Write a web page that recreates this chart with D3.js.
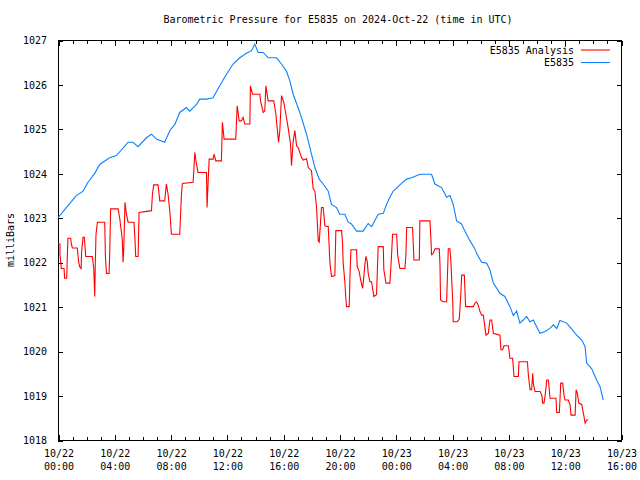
<!DOCTYPE html>
<html><head><meta charset="utf-8">
<script src="https://cdn.jsdelivr.net/npm/d3@7"></script>
<style>
html,body{margin:0;padding:0;background:#fff;}
text{font-family:"DejaVu Sans Mono",monospace;font-size:10px;fill:#000;}
</style></head>
<body>
<svg id="c" width="640" height="480"></svg>
<script>
// Hours since 2024-10-22 00:00 UTC, and pressure (mb)
const analysisHours = [0.00,0.14,0.14,0.24,0.43,0.47,0.62,0.66,0.71,0.90,0.95,1.02,1.37,1.47,1.54,1.64,1.68,1.78,1.87,1.92,1.97,2.44,2.54,2.61,2.65,2.70,2.80,3.32,3.37,3.44,3.63,3.67,3.74,4.27,4.38,4.57,4.62,4.67,4.76,4.86,4.98,5.40,5.47,5.52,5.69,5.76,6.64,6.71,6.80,7.11,7.23,7.58,7.70,7.82,7.94,8.06,8.65,8.77,8.84,9.60,9.72,9.84,9.95,10.55,10.59,10.66,10.74,11.02,11.09,11.21,11.61,11.68,11.80,12.63,12.73,12.87,13.03,13.15,13.27,13.63,13.67,13.82,14.34,14.39,14.58,14.69,14.77,14.93,15.33,15.48,15.59,15.67,15.76,15.88,16.04,16.19,16.35,16.52,16.59,16.71,16.83,16.95,17.06,17.30,17.42,17.66,17.78,18.01,18.13,18.25,18.37,18.49,18.56,18.72,18.84,18.96,19.20,19.32,19.43,19.67,19.74,20.15,20.22,20.26,20.38,20.45,20.50,20.69,20.74,20.81,21.21,21.26,21.40,21.50,21.64,21.73,21.80,21.88,21.97,22.04,22.16,22.28,22.35,22.44,22.63,22.75,23.11,23.15,23.30,23.58,23.70,23.77,24.06,24.13,24.29,24.65,24.72,24.77,25.19,25.29,25.67,25.71,26.43,26.50,26.54,26.66,26.78,27.09,27.14,27.18,27.37,27.61,27.73,27.85,27.92,28.04,28.08,28.37,28.51,28.61,28.68,28.87,28.91,28.96,29.51,29.63,29.74,29.86,29.98,30.10,30.22,30.34,30.41,30.57,30.69,30.81,30.93,31.40,31.47,31.59,31.69,32.00,32.11,32.30,32.40,32.71,32.75,33.35,33.42,33.54,33.65,33.73,33.77,33.89,34.25,34.37,34.44,34.53,34.63,34.72,34.84,34.96,35.38,35.43,35.62,35.72,35.86,35.95,36.02,36.26,36.38,36.45,36.74,36.81,36.90,37.00,37.21,37.33,37.45,37.56,37.68];
const analysisValues = [1022.41,1022.41,1022.17,1021.86,1021.86,1021.64,1021.64,1022.13,1022.54,1022.54,1022.41,1022.32,1022.32,1022.0,1021.9,1021.86,1022.24,1022.56,1022.56,1022.35,1022.13,1022.13,1021.86,1021.23,1021.98,1022.63,1022.9,1022.9,1022.13,1021.75,1021.75,1022.13,1023.2,1023.2,1023.0,1022.5,1022.0,1022.28,1023.35,1023.08,1022.9,1022.9,1022.5,1022.13,1022.13,1023.12,1023.16,1023.53,1023.74,1023.74,1023.38,1023.38,1023.76,1023.53,1023.16,1022.63,1022.63,1023.53,1023.77,1023.8,1024.47,1024.2,1024.02,1024.02,1023.23,1023.76,1024.32,1024.32,1024.43,1024.28,1024.28,1025.15,1024.77,1024.77,1025.52,1025.18,1025.18,1025.26,1025.11,1025.11,1025.97,1025.78,1025.78,1025.63,1025.37,1025.4,1025.97,1025.63,1025.63,1025.33,1024.96,1024.7,1024.96,1025.75,1025.6,1025.33,1025.03,1024.66,1024.17,1024.72,1024.96,1024.62,1024.58,1024.36,1024.3,1024.33,1024.13,1024.06,1023.65,1023.6,1023.23,1022.48,1022.45,1023.23,1023.23,1022.82,1022.8,1021.98,1021.68,1021.7,1022.71,1022.71,1022.41,1021.98,1021.56,1021.19,1021.0,1021.0,1021.64,1022.28,1022.28,1021.9,1021.79,1021.6,1021.41,1021.67,1021.94,1022.13,1022.02,1021.75,1021.56,1021.56,1021.41,1021.23,1021.27,1022.35,1022.35,1021.83,1021.53,1021.53,1022.17,1022.63,1022.63,1022.17,1021.86,1021.86,1022.17,1022.78,1022.78,1022.05,1022.05,1022.93,1022.93,1022.48,1022.17,1022.2,1022.3,1022.3,1021.94,1021.15,1021.11,1021.11,1022.3,1022.3,1021.98,1021.15,1020.66,1020.66,1020.72,1021.23,1021.71,1021.71,1021.38,1021.0,1021.0,1021.08,1021.11,1021.03,1020.89,1020.81,1020.81,1020.51,1020.36,1020.4,1020.7,1020.7,1020.4,1020.36,1020.03,1020.03,1020.12,1020.12,1019.84,1019.84,1019.43,1019.43,1019.76,1019.76,1019.46,1019.13,1019.13,1019.5,1019.28,1019.09,1019.09,1019.01,1018.83,1018.83,1019.05,1019.35,1019.35,1018.94,1018.94,1018.62,1018.62,1019.28,1019.28,1019.01,1018.9,1018.9,1018.79,1018.56,1018.56,1019.13,1019.05,1018.83,1018.8,1018.6,1018.38,1018.45,1018.45];
const stationHours = [0.00,0.59,1.30,1.78,2.13,2.61,2.96,3.67,4.15,4.98,5.33,5.69,6.28,6.64,6.99,7.58,7.94,8.30,8.65,9.12,9.36,9.84,10.07,10.55,11.02,11.49,11.97,12.44,12.92,13.39,13.75,13.98,14.22,14.58,14.93,15.52,15.88,16.23,16.47,16.71,17.18,17.66,18.01,18.25,18.56,18.84,19.20,19.43,19.79,20.02,20.38,20.62,20.85,21.21,21.68,22.04,22.28,22.75,23.11,23.34,23.58,23.82,24.29,24.76,25.12,25.71,26.54,26.78,27.25,27.61,27.85,28.08,28.32,28.67,28.91,29.27,29.62,29.74,30.10,30.45,30.69,30.93,31.40,31.75,32.11,32.35,32.58,32.82,33.06,33.29,33.53,33.77,34.24,34.60,34.95,35.19,35.43,35.66,36.14,36.49,36.85,37.21,37.45,37.56,37.92,38.27,38.51,38.74];
const stationValues = [1023.0,1023.23,1023.5,1023.6,1023.8,1024.0,1024.2,1024.35,1024.4,1024.7,1024.7,1024.6,1024.8,1024.88,1024.77,1024.7,1024.96,1025.1,1025.37,1025.48,1025.4,1025.55,1025.67,1025.67,1025.7,1025.97,1026.23,1026.46,1026.6,1026.7,1026.76,1026.91,1026.72,1026.72,1026.6,1026.6,1026.46,1026.3,1026.08,1025.78,1025.37,1024.88,1024.43,1024.13,1023.87,1023.76,1023.6,1023.3,1023.23,1023.08,1023.08,1022.9,1022.86,1022.7,1022.7,1022.87,1022.8,1023.08,1023.1,1023.3,1023.46,1023.6,1023.74,1023.87,1023.9,1023.98,1023.98,1023.76,1023.68,1023.46,1023.5,1023.3,1022.93,1022.86,1022.7,1022.48,1022.3,1022.2,1022.0,1021.98,1021.83,1021.53,1021.3,1021.23,1021.0,1020.8,1020.9,1020.63,1020.7,1020.78,1020.66,1020.7,1020.4,1020.44,1020.51,1020.59,1020.51,1020.69,1020.63,1020.5,1020.36,1020.25,1020.1,1019.73,1019.6,1019.35,1019.2,1018.9];
const yTicks = [1018,1019,1020,1021,1022,1023,1024,1025,1026,1027];
const seriesNames = ["E5835 Analysis","E5835"];
const seriesColors = ["#ff0000","#0a80ff"];
const titleText = "Barometric Pressure for E5835 on 2024-Oct-22 (time in UTC)";
const yLabel = "milliBars";

const t0 = Date.UTC(2024,9,22,0,0);
const toDate = h => new Date(t0 + h*3600000);
const L=58, R=621, T=40, B=440;
const svg = d3.select("#c");
const x = d3.scaleUtc().domain([toDate(0), toDate(40)]).range([L,R]);
const y = d3.scaleLinear().domain([1018,1027]).range([B,T]);

// frame
svg.append("rect").attr("x",L+0.5).attr("y",T+0.5).attr("width",R-L).attr("height",B-T)
  .attr("fill","none").attr("stroke","#000").attr("stroke-width",1).attr("shape-rendering","crispEdges");

const majors = d3.utcHour.every(4).range(toDate(0), toDate(40.01));
const minors = d3.utcHour.every(1).range(toDate(0), toDate(40.01));
function styleAxis(g){ g.select(".domain").remove(); g.selectAll("line").attr("stroke","#000").attr("shape-rendering","crispEdges"); }
// minor ticks bottom/top
svg.append("g").attr("transform",`translate(0.5,${B})`).call(d3.axisBottom(x).tickValues(minors).tickSize(-3).tickFormat("")).call(styleAxis);
svg.append("g").attr("transform",`translate(0.5,${T+1})`).call(d3.axisTop(x).tickValues(minors).tickSize(-3).tickFormat("")).call(styleAxis);
// major ticks
const xb = svg.append("g").attr("transform",`translate(0.5,${B})`).call(d3.axisBottom(x).tickValues(majors).tickSize(-5).tickFormat("")).call(styleAxis);
svg.append("g").attr("transform",`translate(0.5,${T+1})`).call(d3.axisTop(x).tickValues(majors).tickSize(-5).tickFormat("")).call(styleAxis);
const fmtD = d3.utcFormat("%m/%d"), fmtT = d3.utcFormat("%H:%M");
xb.selectAll(".tick").each(function(d){
  const t = d3.select(this).append("text").attr("text-anchor","middle").attr("fill","#000").style("font-size","10px");
  t.append("tspan").attr("x",0).attr("y",17).text(fmtD(d));
  t.append("tspan").attr("x",0).attr("y",30).text(fmtT(d));
});
// y ticks
svg.append("g").attr("transform",`translate(${L},0.5)`).call(d3.axisLeft(y).tickValues(yTicks).tickSize(-5).tickPadding(11).tickFormat(d3.format("d"))).call(styleAxis)
  .selectAll("text").attr("fill","#000").style("font-size","10px").style("font-family","DejaVu Sans Mono");
svg.append("g").attr("transform",`translate(${R+1},0.5)`).call(d3.axisRight(y).tickValues(yTicks).tickSize(-5).tickFormat("")).call(styleAxis);

// lines
const line = d3.line().x(d=>x(toDate(d[0]))).y(d=>y(d[1]));
const redData = analysisHours.map((h,i)=>[h,analysisValues[i]]);
const blueData = stationHours.map((h,i)=>[h,stationValues[i]]);
svg.append("path").datum(redData).attr("d",line).attr("fill","none").attr("stroke",seriesColors[0]).attr("stroke-width",1.1);
svg.append("path").datum(blueData).attr("d",line).attr("fill","none").attr("stroke",seriesColors[1]).attr("stroke-width",1.1);

// title
svg.append("text").attr("x",338).attr("y",23).attr("text-anchor","middle").text(titleText);
// y label
svg.append("text").attr("transform","translate(14,240) rotate(-90)").attr("text-anchor","middle").text(yLabel);
// legend
seriesNames.forEach((n,i)=>{
  const yy = 50 + i*12.5;
  svg.append("text").attr("x",574).attr("y",yy+3.5).attr("text-anchor","end").text(n);
  svg.append("line").attr("x1",581).attr("x2",610).attr("y1",yy).attr("y2",yy).attr("stroke",seriesColors[i]).attr("stroke-width",1.1);
});
</script>
</body></html>
